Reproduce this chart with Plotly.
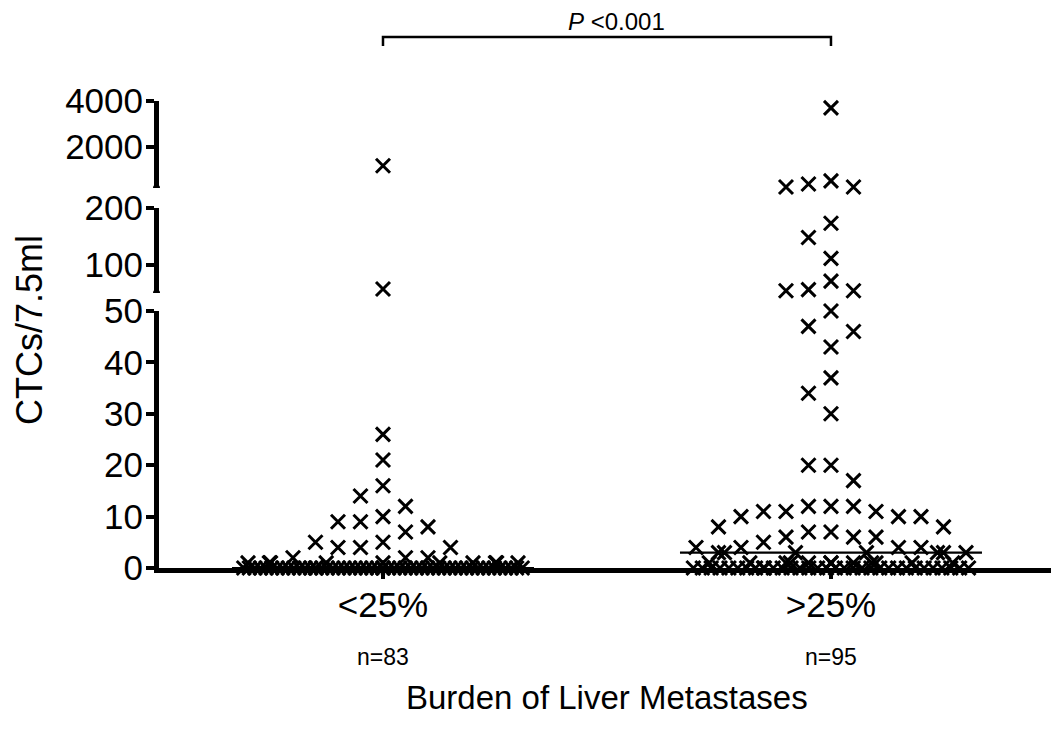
import numpy as np
import plotly.graph_objects as go

# ---------------- data ----------------
categories = ["<25%", ">25%"]
category_ticktext = ["&lt;25%", "&gt;25%"]
n_labels = ["n=83", "n=95"]

ctc_low_burden = [
    1170, 57, 26, 21, 16, 14, 12, 10, 9, 9,
    8, 7, 5, 5, 4, 4, 4, 2, 2, 2,
    1, 1, 1, 1, 1, 1, 1, 1, 1, 1,
    0, 0, 0, 0, 0, 0, 0, 0, 0, 0,
    0, 0, 0, 0, 0, 0, 0, 0, 0, 0,
    0, 0, 0, 0, 0, 0, 0, 0, 0, 0,
    0, 0, 0, 0, 0, 0, 0, 0, 0, 0,
    0, 0, 0, 0, 0, 0, 0, 0, 0, 0,
    0, 0, 0,
]
ctc_high_burden = [
    3700, 510, 375, 245, 245, 173, 148, 111, 71, 56,
    54, 54, 50, 47, 46, 43, 37, 34, 30, 20,
    20, 17, 12, 12, 12, 11, 11, 11, 10, 10,
    10, 8, 8, 7, 7, 6, 6, 6, 5, 4,
    4, 4, 4, 3, 3, 3, 3, 3, 3, 3,
    1, 1, 1, 1, 1, 1, 1, 1, 1, 1,
    1, 1, 0, 0, 0, 0, 0, 0, 0, 0,
    0, 0, 0, 0, 0, 0, 0, 0, 0, 0,
    0, 0, 0, 0, 0, 0, 0, 0, 0, 0,
    0, 0, 0, 0, 0,
]
groups = [ctc_low_burden, ctc_high_burden]

# broken y axis: three segments
seg_ranges = [(0, 50), (50, 200), (200, 4000)]
seg_ticks = [[0, 10, 20, 30, 40, 50], [100, 200], [2000, 4000]]
p_text = "<i>P</i> &lt;0.001"
x_title = "Burden of Liver Metastases"
y_title = "CTCs/7.5ml"

# ---------------- layout geometry ----------------
WIN_W, WIN_H = 1059, 733
OFF = 8                      # page body margin around the figure
W, H = WIN_W - OFF, WIN_H - OFF
FONT = "Liberation Sans, Arial, Helvetica, sans-serif"


def py(px):   # window pixel row -> paper y
    return 1 - (px - OFF) / H


def pxx(px):  # window pixel column -> paper x
    return (px - OFF) / W


# window pixel rows of segments (bottom, top)
seg_px = [(568, 311), (293, 208), (188, 101)]
seg_domains = [[py(b), py(t)] for b, t in seg_px]
x_left_px = 159
x_range = [0.5, 2.509]
px_per_unit = (WIN_W - x_left_px) / (x_range[1] - x_range[0])


def seg_index(v):
    if v <= seg_ranges[0][1]:
        return 0
    if v <= seg_ranges[1][1]:
        return 1
    return 2


def y_pixel(v):
    s = seg_index(v)
    r0, r1 = seg_ranges[s]
    (b, t) = seg_px[s]
    return b + (v - r0) / (r1 - r0) * (t - b)


def swarm(values, slot=22.5, h=21, max_k=6, half_width=142):
    ypx = [y_pixel(v) for v in values]
    n = len(values)
    order = sorted(range(n), key=lambda i: ypx[i])
    placed, dx, overflow = [], [0.0] * n, {}
    ks = [0] + [s * m for m in range(1, max_k + 1) for s in (-1, 1)]
    for i in order:
        y = ypx[i]
        ok = False
        for k in ks:
            x = k * slot
            if all(abs(qx - x) >= slot * 0.5 or abs(qy - y) >= h for qx, qy in placed):
                placed.append((x, y))
                dx[i] = x
                ok = True
                break
        if not ok:
            overflow.setdefault(round(y, 1), []).append(i)
    for _, idxs in overflow.items():
        m = len(idxs)
        for j, i in enumerate(idxs):
            dx[i] = -half_width + (j + 0.5) * 2 * half_width / m
    return dx


fig = go.Figure()

seg_x = [[], [], []]
seg_y = [[], [], []]
for gi, vals in enumerate(groups):
    offs = swarm(vals)
    for v, o in zip(vals, offs):
        s = seg_index(v)
        seg_x[s].append(gi + 1 + o / px_per_unit)
        seg_y[s].append(v)

axis_names = ["y", "y2", "y3"]
for s in range(3):
    fig.add_trace(go.Scatter(
        x=seg_x[s], y=seg_y[s], xaxis="x", yaxis=axis_names[s],
        mode="markers", cliponaxis=False, hoverinfo="skip",
        marker=dict(symbol="x-thin", size=14, color="black",
                    line=dict(color="black", width=3)),
    ))

# median lines
med_half = 151 / px_per_unit
for gi, vals in enumerate(groups):
    med = float(np.median(vals))
    fig.add_trace(go.Scatter(
        x=[gi + 1 - med_half, gi + 1 + med_half], y=[med, med],
        xaxis="x", yaxis=axis_names[seg_index(med)], mode="lines",
        line=dict(color="black", width=2.2), cliponaxis=False, hoverinfo="skip",
    ))

tickfont = dict(family=FONT, size=35, color="black")
yax_common = dict(showline=True, linewidth=5, linecolor="black", ticks="outside",
                  ticklen=8, tickwidth=4, tickcolor="black", tickfont=tickfont,
                  showgrid=False, zeroline=False, anchor="x", fixedrange=True,
                  automargin=False, ticklabelstandoff=-4)

layout_axes = {}
for s in range(3):
    key = "yaxis" if s == 0 else f"yaxis{s+1}"
    layout_axes[key] = dict(domain=seg_domains[s], range=list(seg_ranges[s]),
                            tickvals=seg_ticks[s], ticktext=[str(t) for t in seg_ticks[s]],
                            **yax_common)

fig.update_layout(
    width=W, height=H, margin=dict(l=0, r=0, t=0, b=0, pad=0), autosize=False,
    paper_bgcolor="white", plot_bgcolor="white", showlegend=False,
    font=dict(family=FONT, color="black"),
    xaxis=dict(domain=[pxx(x_left_px), 1], range=x_range, tickvals=[1, 2],
               ticktext=category_ticktext, showline=True, linewidth=5,
               linecolor="black", ticks="outside", ticklen=6, tickwidth=4,
               tickcolor="black", tickfont=tickfont, showgrid=False,
               zeroline=False, anchor="y", fixedrange=True, automargin=False,
               ticklabelstandoff=-4),
    **layout_axes,
)

# round caps at lower ends of upper segments
for s in (1, 2):
    fig.add_shape(type="circle", xref="paper", yref=axis_names[s],
                  xsizemode="pixel", ysizemode="pixel",
                  xanchor=pxx(x_left_px - 2.5), yanchor=seg_ranges[s][0],
                  x0=-3.5, x1=3.5, y0=-3.5, y1=3.5,
                  fillcolor="black", line=dict(color="black", width=0))

# significance bracket
yb_top = py(37)
yb_bot = py(46)
fig.add_shape(type="path", xref="x", yref="paper",
              path=f"M 1,{yb_bot} L 1,{yb_top} L 2,{yb_top} L 2,{yb_bot}",
              line=dict(color="black", width=2.5))

ann = dict(showarrow=False, xanchor="center", yanchor="middle")
fig.add_annotation(x=1.5, xref="x", y=py(22), yref="paper", text=p_text,
                   xshift=10, font=dict(family=FONT, size=24, color="black"), **ann)

for gi, lab in enumerate(n_labels):
    fig.add_annotation(x=gi + 1, xref="x", y=py(657), yref="paper", text=lab,
                       font=dict(family=FONT, size=23, color="black"), **ann)

fig.add_annotation(x=1.5, xref="x", y=py(697), yref="paper", text=x_title,
                   font=dict(family=FONT, size=33, color="black"), **ann)
fig.add_annotation(x=pxx(29), xref="paper", y=py(330), yref="paper", text=y_title,
                   textangle=-90, font=dict(family=FONT, size=36, color="black"), **ann)

fig.write_html("out.html")
